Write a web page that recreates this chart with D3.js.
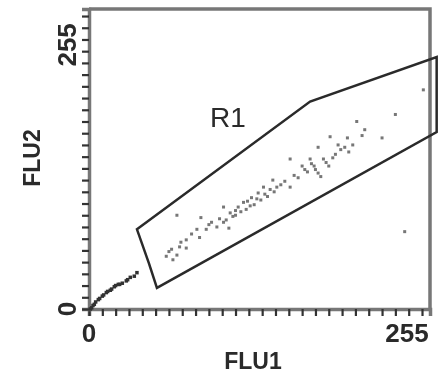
<!DOCTYPE html>
<html>
<head>
<meta charset="utf-8">
<script src="https://cdn.jsdelivr.net/npm/d3@7"></script>
<style>
  html, body { margin: 0; padding: 0; background: #fff; }
  text { font-family: "Liberation Sans", Arial, sans-serif; fill: #2a2a2a; font-weight: bold; }
</style>
</head>
<body>
<div id="chart"></div>
<script>
// channel values (0..255 scale)
const tailEvents = [
  [1, 0], [2, 1], [3, 3], [4, 4], [5, 6], [7, 8], [8, 9], [10, 11], [11, 12], [13, 14],
  [14, 15], [16, 16], [17, 17], [19, 19], [20, 20], [22, 21], [23, 21], [25, 22], [28, 24],
  [29, 25], [31, 27], [34, 28], [36, 31]
];
const gatedEvents = [
  [58, 45], [60, 49], [62, 51], [63, 42], [66, 46], [68, 53], [69, 57], [73, 52], [73, 59],
  [77, 64], [81, 68], [83, 61], [84, 78], [88, 68], [90, 72], [92, 74], [96, 70], [98, 77],
  [101, 74], [101, 87], [103, 76], [105, 69], [106, 82], [108, 79], [110, 80], [110, 84],
  [112, 87], [114, 83], [116, 91], [118, 85], [119, 92], [121, 88], [122, 95], [124, 89],
  [126, 94], [127, 99], [129, 93], [131, 104], [132, 98], [134, 96], [136, 102], [138, 110],
  [139, 100], [141, 104], [144, 106], [147, 109], [151, 104], [151, 128], [154, 114],
  [157, 112], [160, 122], [162, 119], [164, 117], [166, 128], [167, 124], [169, 122],
  [170, 119], [172, 116], [172, 138], [174, 113], [176, 128], [178, 125], [180, 122],
  [181, 147], [183, 129], [185, 132], [187, 140], [189, 136], [192, 138], [194, 146],
  [195, 134], [198, 140], [201, 160], [205, 148], [207, 153], [220, 146], [230, 166]
];
const strayEvents = [[66, 80], [237, 66], [251, 187]];
const gateR1 = [[36, 68], [166, 177], [261, 215], [261, 151], [51, 18], [45, 39]];
const tickValues = d3.range(0, 256, 10);
const xLabels = ['0', '255'];
const yLabels = ['0', '255'];

const width = 440, height = 375;
const x = d3.scaleLinear().domain([0, 256]).range([89, 430]);
const y = d3.scaleLinear().domain([0, 256]).range([309, 9]);

const svg = d3.select('#chart').append('svg')
  .attr('width', width)
  .attr('height', height);

svg.append('defs').append('filter')
  .attr('id', 'soft')
  .append('feGaussianBlur')
  .attr('stdDeviation', 0.6);

const g = svg.append('g').attr('filter', 'url(#soft)');

// frame top / right
g.append('path')
  .attr('d', `M${x(0)},${y(256)}H${x(256)}V${y(0)}`)
  .attr('fill', 'none')
  .attr('stroke', '#777')
  .attr('stroke-width', 3.5);

const xAxis = g.append('g')
  .attr('transform', `translate(0,${y(0)})`)
  .call(d3.axisBottom(x).tickValues(tickValues).tickSize(7).tickFormat(''));
const yAxis = g.append('g')
  .attr('transform', `translate(${x(0)},0)`)
  .call(d3.axisLeft(y).tickValues(tickValues).tickSize(7).tickFormat(''));
[xAxis, yAxis].forEach((a) => {
  a.select('.domain').attr('stroke', '#777').attr('stroke-width', 3.5);
  a.selectAll('.tick line').attr('stroke', '#333').attr('stroke-width', 2.2);
});

// gate
g.append('path')
  .attr('d', d3.line().x((d) => x(d[0])).y((d) => y(d[1]))(gateR1) + 'Z')
  .attr('fill', 'none')
  .attr('stroke', '#2a2a2a')
  .attr('stroke-width', 2.5);

g.append('text')
  .attr('x', 210)
  .attr('y', 127)
  .attr('font-size', 28)
  .style('font-weight', 'normal')
  .text('R1');

// events
const drawDots = (data, fill, size) => {
  g.append('g').selectAll('rect')
    .data(data)
    .join('rect')
    .attr('x', (d) => x(d[0]) - size / 2)
    .attr('y', (d) => y(d[1]) - size / 2)
    .attr('width', size)
    .attr('height', size)
    .attr('fill', fill);
};
drawDots(tailEvents, '#333', 3.5);
drawDots(gatedEvents, '#777', 3);
drawDots(strayEvents, '#777', 3);

// tick labels
g.append('text')
  .attr('x', x(0)).attr('y', 342)
  .attr('text-anchor', 'middle').attr('font-size', 26)
  .text(xLabels[0]);
g.append('text')
  .attr('x', x(255)).attr('y', 342)
  .attr('text-anchor', 'end').attr('font-size', 26)
  .text(xLabels[1]);
g.append('text')
  .attr('transform', `translate(76,${y(0)}) rotate(-90)`)
  .attr('text-anchor', 'middle').attr('font-size', 26)
  .text(yLabels[0]);
g.append('text')
  .attr('transform', `translate(76,${y(255) + 13}) rotate(-90)`)
  .attr('text-anchor', 'end').attr('font-size', 26)
  .text(yLabels[1]);

// axis titles
g.append('text')
  .attr('x', 253).attr('y', 369)
  .attr('text-anchor', 'middle').attr('font-size', 23)
  .text('FLU1');
g.append('text')
  .attr('transform', 'translate(40,158) rotate(-90)')
  .attr('text-anchor', 'middle').attr('font-size', 23)
  .text('FLU2');
</script>
</body>
</html>
